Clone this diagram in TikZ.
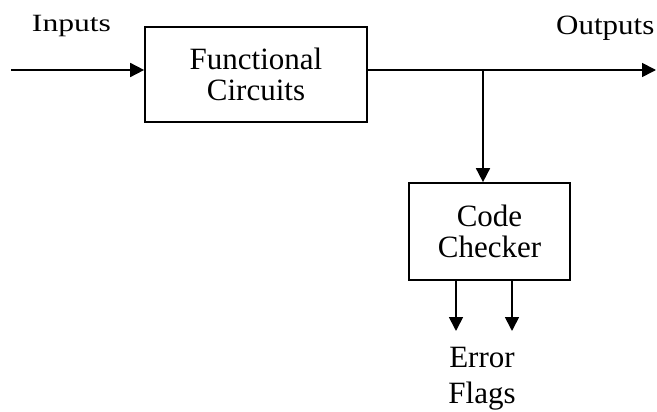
\documentclass[tikz,border=0pt]{standalone}
\usepackage{fontspec}
\setmainfont{Liberation Serif}
\usetikzlibrary{arrows.meta}
\begin{document}
\begin{tikzpicture}[x=1pt,y=-1pt,
  wire/.style={line width=1.7pt},
  flow/.style={wire,-{Triangle[length=14pt,width=14pt]}},
  block/.style={draw,line width=1.7pt,align=center,inner sep=0pt,
    font=\fontsize{31}{31}\selectfont},
  lbl/.style={font=\fontsize{31}{32}\selectfont,inner sep=0pt,anchor=base}]
\useasboundingbox (0,0) rectangle (657,412);

% blocks
\node[block,minimum width=222pt,minimum height=95pt] (fc) at (256,74.5) {Functional\\Circuits};
\node[block,minimum width=161pt,minimum height=97pt] (cc) at (489.5,231.5) {Code\\Checker};

% free ends and branch point
\coordinate (in)  at (11,70);
\coordinate (out) at (656,70);
\coordinate (br)  at (483,70);
\coordinate (e1)  at (456,331);
\coordinate (e2)  at (512,331);

% signal lines
\draw[flow] (in) -- (in -| fc.west);
\draw[flow] (fc.east |- out) -- (out);
\draw[flow] (br) -- (br |- cc.north);
\draw[flow] (e1 |- cc.south) -- (e1);
\draw[flow] (e2 |- cc.south) -- (e2);

% labels
\node[lbl] (inlbl) at (71.5,32) {\scalebox{1.02}[0.8]{Inputs}};
\node[lbl,anchor=base west] (outlbl) at (556,35) {\scalebox{1}[0.9]{Outputs}};
\node[lbl] (err) at (482,367) {Error};
\node[lbl] (flg) at (482,403) {Flags};
\end{tikzpicture}
\end{document}
